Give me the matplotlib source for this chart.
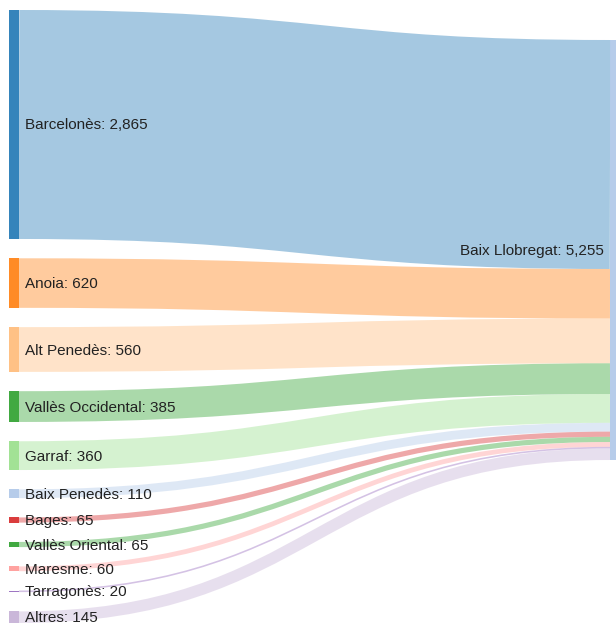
import numpy as np
import matplotlib
matplotlib.use('Agg')
import matplotlib.pyplot as plt
from matplotlib.path import Path
from matplotlib.patches import PathPatch, Rectangle

# source comarques flowing into Baix Llobregat
sources = ['Barcelonès', 'Anoia', 'Alt Penedès', 'Vallès Occidental', 'Garraf',
           'Baix Penedès', 'Bages', 'Vallès Oriental', 'Maresme', 'Tarragonès', 'Altres']
values = [2865, 620, 560, 385, 360, 110, 65, 65, 60, 20, 145]
colors = ['#1f77b4', '#ff7f0e', '#ffbb78', '#2ca02c', '#98df8a',
          '#aec7e8', '#d62728', '#2ca02c', '#ff9896', '#9467bd', '#c5b0d5']
target = 'Baix Llobregat'
target_color = '#aec7e8'

W, H = 616, 623
fig = plt.figure(figsize=(W / 100, H / 100), dpi=100)
ax = fig.add_axes([0, 0, 1, 1])
ax.set_xlim(0, W)
ax.set_ylim(H, 0)
ax.axis('off')

plt.rcParams['font.family'] = ['Liberation Sans', 'DejaVu Sans']
fs = 11

# layout in pixels
node_w = 10
left_x = 9
right_x = 610
top, bottom = 10, 623
total = sum(values)
ky = 420 / total
gap = (bottom - top - total * ky) / (len(values) - 1)
right_top = 40

y = top
ty = right_top
for name, v, c in zip(sources, values, colors):
    h = v * ky
    # link as a thick stroked bezier, like d3-sankey
    y0 = y + h / 2
    y1 = ty + h / 2
    x0 = left_x + node_w
    x1 = right_x
    xm = (x0 + x1) / 2
    path = Path([(x0, y0), (xm, y0), (xm, y1), (x1, y1)],
                [Path.MOVETO, Path.CURVE4, Path.CURVE4, Path.CURVE4])
    ax.add_patch(PathPatch(path, facecolor='none', edgecolor=c, alpha=0.4,
                           lw=max(1, h) * 0.72, capstyle='butt', zorder=1))
    ax.add_patch(Rectangle((left_x, y), node_w, max(h, 1), facecolor=c, alpha=0.9,
                           edgecolor='none', zorder=2))
    ax.text(x0 + 6, y + h / 2 + 1, '%s: %s' % (name, format(v, ',')),
            ha='left', va='center', fontsize=fs, color='#222222', zorder=3)
    y += h + gap
    ty += h

ax.add_patch(Rectangle((right_x, right_top), node_w, total * ky, alpha=0.9,
                       facecolor=target_color, edgecolor='none', zorder=2))
ax.text(right_x - 6, right_top + total * ky / 2 + 1, '%s: %s' % (target, format(total, ',')),
        ha='right', va='center', fontsize=fs, color='#222222', zorder=3)

fig.savefig('out.png', dpi=100)
